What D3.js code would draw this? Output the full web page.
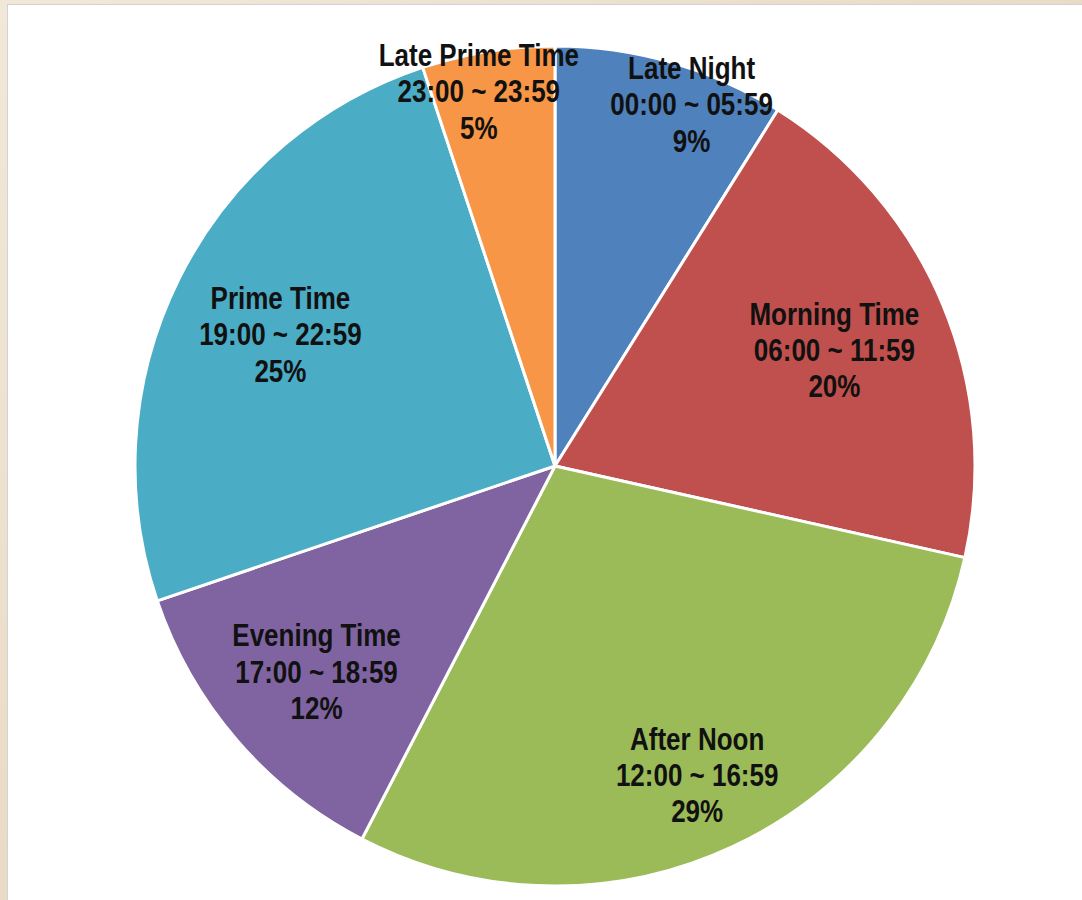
<!DOCTYPE html>
<html>
<head>
<meta charset="utf-8">
<script src="https://cdn.jsdelivr.net/npm/d3@7"></script>
<style>
  html, body { margin: 0; padding: 0; }
  body { width: 1082px; height: 900px; overflow: hidden; background: #eee4d2; }
</style>
</head>
<body>
<svg id="chart" width="1082" height="900"></svg>
<script>
// ---- data ----
const categories = ["Late Night", "Morning Time", "After Noon", "Evening Time", "Prime Time", "Late Prime Time"];
const timeRanges = ["00:00 ~ 05:59", "06:00 ~ 11:59", "12:00 ~ 16:59", "17:00 ~ 18:59", "19:00 ~ 22:59", "23:00 ~ 23:59"];
const shares = [8.9, 19.6, 29.1, 12.2, 25.1, 5.1];   // slice sizes (labels show them rounded)
const colors = ["#4f81bd", "#c0504d", "#9bbb59", "#8064a2", "#4bacc6", "#f79646"];

// ---- layout (label placement: angle in degrees clockwise from top, radius as fraction of pie radius) ----
const labelAngle = [20.7, 67.5, 155.3, 229.2, 295.6, 348.5];
const labelRadius = [0.92, 0.72, 0.81, 0.75, 0.725, 0.91];

const W = 1082, H = 900;
const cx = 555, cy = 466, R = 420;

const svg = d3.select("#chart");

// background
const defs = svg.append("defs");
const grad = defs.append("linearGradient").attr("id", "bg").attr("x1", "0").attr("y1", "0").attr("x2", "1").attr("y2", "1");
grad.append("stop").attr("offset", "0%").attr("stop-color", "#f1e8d8");
grad.append("stop").attr("offset", "50%").attr("stop-color", "#e9dcc6");
grad.append("stop").attr("offset", "100%").attr("stop-color", "#f2eadb");
svg.append("rect").attr("width", W).attr("height", H).attr("fill", "url(#bg)");

// white panel
svg.append("rect")
  .attr("x", 7.5).attr("y", 4.5)
  .attr("width", W).attr("height", H)
  .attr("fill", "#ffffff")
  .attr("stroke", "#d3d3d6").attr("stroke-width", 1);

const color = d3.scaleOrdinal().domain(categories).range(colors);

const pie = d3.pie().sort(null).value(d => d.value).startAngle(0).endAngle(2 * Math.PI);
const data = categories.map((c, i) => ({ name: c, range: timeRanges[i], value: shares[i], i }));
const arcs = pie(data);

const arc = d3.arc().innerRadius(0).outerRadius(R);

const g = svg.append("g").attr("transform", `translate(${cx},${cy})`);

g.selectAll("path.slice")
  .data(arcs)
  .join("path")
  .attr("class", "slice")
  .attr("d", arc)
  .attr("fill", d => color(d.data.name))
  .attr("stroke", "#ffffff")
  .attr("stroke-width", 3)
  .attr("stroke-linejoin", "round");

// labels
const labels = g.selectAll("g.label")
  .data(arcs)
  .join("g")
  .attr("class", "label")
  .attr("transform", d => {
    const a = labelAngle[d.data.i] * Math.PI / 180;
    const r = labelRadius[d.data.i] * R;
    const x = r * Math.sin(a), y = -r * Math.cos(a);
    return `translate(${x},${y}) scale(1,1.21)`;
  });

labels.each(function(d) {
  const lines = [d.data.name, d.data.range, Math.round(d.data.value) + "%"];
  d3.select(this).selectAll("text")
    .data(lines)
    .join("text")
    .attr("x", 0)
    .attr("y", (t, k) => (k - 1) * 30)
    .attr("text-anchor", "middle")
    .attr("dominant-baseline", "central")
    .attr("font-family", "'Liberation Sans', Arial, sans-serif")
    .attr("font-weight", "bold")
    .attr("font-size", 26)
    .attr("fill", "#111111")
    .text(t => t);
});
</script>
</body>
</html>
